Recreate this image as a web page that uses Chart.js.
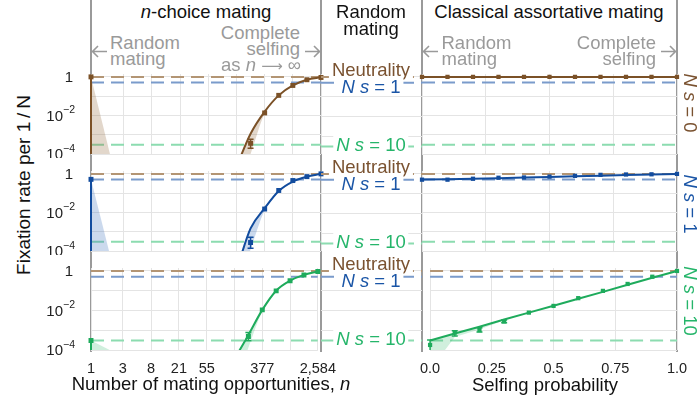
<!DOCTYPE html>
<html>
<head>
<meta charset="utf-8">
<script src="https://cdn.jsdelivr.net/npm/chart.js@4.4.1/dist/chart.umd.min.js"></script>
<style>
  body { margin: 0; background: #fff; }
  #fig { position: relative; width: 699px; height: 404px; overflow: hidden;
         font-family: "Liberation Sans", Arial, sans-serif; }
  #fig canvas { position: absolute; }
  .t { position: absolute; white-space: nowrap; }
  .sep { position: absolute; width: 2px; top: 0; height: 352px; background: #9a9a9a; }
  #arrows { position: absolute; left: 0; top: 0; }
</style>
</head>
<body>
<div id="fig">
  <div class="sep" style="left:90px"></div>
  <div class="sep" style="left:320px"></div>
  <div class="sep" style="left:421px"></div>
  <div class="sep" style="left:676px"></div>
  <svg id="arrows" width="699" height="80" fill="none" stroke="#9a9a9a" stroke-width="1.6">
    <path d="M92 51.5 H107 M98 46 L92.5 51.5 L98 57"/>
    <path d="M305 51.5 H320 M314 46 L319.5 51.5 L314 57"/>
    <path d="M423 51.5 H438 M429 46 L423.5 51.5 L429 57"/>
    <path d="M661 51.5 H676 M670 46 L675.5 51.5 L670 57"/>
  </svg>
</div>
<script>
// axis ticks
const nTicks = [1, 3, 8, 21, 55, 144, 377, 987, 2584];
const nTickLabels = ['1', '3', '8', '21', '55', '', '377', '', '2,584'];
const selfTicks = [0, 0.25, 0.5, 0.75, 1];
const selfTickLabels = ['0.0', '0.25', '0.5', '0.75', '1.0'];
const yGrid = [1e-4, 1e-3, 1e-2, 1e-1, 1];
const yTickVals = [1, 1e-2, 1e-4];
const yTickBase = ['1', '10', '10'];
const yTickExp = ['', '\u22122', '\u22124'];

// reference levels (Neutrality, N s = 1, N s = 10)
const refNeutral = 1;
const refNs1 = 0.51;
const refNs10 = 3.0e-4;

// n-choice mating: simulations
const nSim = [1, 233, 377, 610, 987, 1597, 2584];
const simNs0 = [1, 3.6e-4, 1.35e-2, 0.11, 0.36, 0.71, 0.93];
const simNs1 = [0.52, 2.75e-4, 1.5e-2, 0.138, 0.45, 0.72, 1.0];
const simNs10 = [3.0e-4, 4.8e-4, 1.07e-2, 0.098, 0.32, 0.63, 0.93];
const errLoNs0 = [null, 2.0e-4, null, null, null, null, null];
const errHiNs0 = [null, 5.8e-4, null, null, null, null, null];
const errLoNs1 = [null, 1.4e-4, null, null, null, null, null];
const errHiNs1 = [null, 5.1e-4, null, null, null, null, null];
const errLoNs10 = [null, 2.9e-4, null, null, null, null, null];
const errHiNs10 = [null, 7.6e-4, null, null, null, null, null];

// n-choice mating: theory and its band
const nTheory = [144, 233, 377, 610, 987, 1597, 2584];
const theoryNs0 = [2.2e-5, 1.12e-3, 1.58e-2, 0.11, 0.36, 0.71, 0.95];
const theoryNs1 = [1.0e-5, 1.48e-3, 1.66e-2, 0.13, 0.40, 0.72, 1.0];
const theoryNs10 = [3.5e-5, 5.8e-4, 1.07e-2, 0.10, 0.32, 0.63, 0.93];
const bandNs0 = [1e-6, 1.0e-4, 1.26e-2, 0.105, 0.35, 0.70, 0.94];
const bandNs1 = [1e-6, 1.2e-4, 1.3e-2, 0.115, 0.37, 0.69, 0.98];
const bandNs10 = [1e-6, 1.3e-4, 0.9e-2, 0.095, 0.31, 0.62, 0.93];
// shaded wedge at n = 1 : top value, n where it meets the bottom
const wedgeTop = [1, 0.52, 3.0e-4];
const wedgeEnd = [1.91, 1.85, 1.91];

// classical assortative mating
const selfX = [0, 0.1, 0.2, 0.3, 0.4, 0.5, 0.6, 0.7, 0.8, 0.9, 1.0];
const selfSimNs0 = [1, 1, 1, 1, 1, 1, 1, 1, 1, 1, 1];
const selfTheoryNs0 = [1, 1, 1, 1, 1, 1, 1, 1, 1, 1, 1];
const selfSimNs1 = [0.50, 0.50, 0.56, 0.63, 0.65, 0.72, 0.79, 0.89, 0.93, 0.95, 1.0];
const selfTheoryNs1 = [0.51, 0.53, 0.56, 0.60, 0.65, 0.69, 0.76, 0.81, 0.87, 0.93, 1.0];
const selfSimNs10 = [1.8e-4, 7.6e-4, 1.02e-3, 2.8e-3, 7.8e-3, 1.7e-2, 4.2e-2, 9.8e-2, 0.22, 0.51, 1.0];
const selfTheoryNs10 = [3.0e-4, 6.8e-4, 1.5e-3, 3.5e-3, 7.8e-3, 1.74e-2, 3.9e-2, 8.7e-2, 0.20, 0.45, 1.0];
const selfErrLoNs10 = [1e-5, 5.1e-4, 8.1e-4, 2.4e-3, null, null, null, null, null, null, null];
const selfErrHiNs10 = [3.2e-4, 9.5e-4, 1.35e-3, 3.3e-3, null, null, null, null, null, null, null];
const selfBandX = [0, 0.1, 0.2, 0.3];
const selfBandNs10 = [1e-5, 4.5e-4, 1.1e-3, 3.2e-3];

const FONT = '"Liberation Sans", Arial, sans-serif';
Chart.defaults.font.family = FONT;
Chart.defaults.color = '#222';

const colors = ['#7b5127', '#124c9e', '#1eab5c'];
const bands = ['rgba(150,110,70,0.28)', 'rgba(70,120,190,0.28)', 'rgba(40,180,100,0.22)'];
const dashCol = ['#b39574', '#7a9bcb', '#8cdcb0'];
const GRID = '#e4e4e4';
const rowTop = [74, 171, 268];
const ROW_H = 82;

const pts = (xs, ys) => xs.map((x, i) => ({ x: x, y: ys[i] }));
const fig = document.getElementById('fig');

// y tick labels with superscripts, placed by the y scale
const supTicks = {
  id: 'supTicks',
  afterDraw(chart, args, opts) {
    if (!opts.show) return;
    const ctx = chart.ctx, ys = chart.scales.y;
    const right = chart.chartArea.left - 16;
    ctx.save();
    ctx.fillStyle = '#222';
    ctx.textAlign = 'right';
    ctx.textBaseline = 'middle';
    yTickVals.forEach((v, i) => {
      const py = ys.getPixelForValue(v) + 1;
      let x = right;
      if (yTickExp[i]) {
        ctx.font = '10.5px ' + FONT;
        ctx.fillText(yTickExp[i], x, py - 6);
        x -= ctx.measureText(yTickExp[i]).width;
      } else {
        x -= 2;
      }
      ctx.font = '15px ' + FONT;
      ctx.fillText(yTickBase[i], x, py);
    });
    ctx.restore();
  }
};

// I-shaped error bars for datasets carrying errLo / errHi
const errBars = {
  id: 'errBars',
  afterDatasetsDraw(chart) {
    const ctx = chart.ctx, xs = chart.scales.x, ys = chart.scales.y, a = chart.chartArea;
    chart.data.datasets.forEach(ds => {
      if (!ds.errLo) return;
      ctx.save();
      ctx.beginPath();
      ctx.rect(a.left - 6, a.top - 6, a.width + 12, a.height + 6);
      ctx.clip();
      ctx.strokeStyle = ds.borderColor;
      ctx.lineWidth = 1.5;
      ds.data.forEach((p, i) => {
        if (ds.errLo[i] == null) return;
        const px = xs.getPixelForValue(p.x);
        const y1 = ys.getPixelForValue(ds.errLo[i]);
        const y2 = ys.getPixelForValue(ds.errHi[i]);
        ctx.beginPath();
        ctx.moveTo(px, y1); ctx.lineTo(px, y2);
        ctx.moveTo(px - 3, y1); ctx.lineTo(px + 3, y1);
        ctx.moveTo(px - 3, y2); ctx.lineTo(px + 3, y2);
        ctx.stroke();
      });
      ctx.restore();
    });
  }
};

function yScaleOpts() {
  return {
    type: 'logarithmic', min: 1e-4, max: 1.41,
    afterBuildTicks: s => { s.ticks = yGrid.map(v => ({ value: v })); },
    ticks: { display: false },
    grid: { color: GRID, drawTicks: false },
    border: { display: false }
  };
}

function xScaleOpts(kind, bottom) {
  const o = {
    grid: { color: GRID, drawTicks: false, display: kind !== 'mid' },
    border: { display: false },
    ticks: { display: bottom && kind !== 'mid', autoSkip: false, maxRotation: 0, padding: 10,
             font: { size: 14.5 }, color: '#222' }
  };
  if (kind === 'n') {
    Object.assign(o, { type: 'logarithmic', min: 1, max: 2584 });
    o.afterBuildTicks = s => { s.ticks = nTicks.map(v => ({ value: v })); };
    o.ticks.callback = (v, i) => nTickLabels[i];
  } else {
    Object.assign(o, { type: 'linear', min: 0, max: 1 });
    if (kind === 'self') {
      o.afterBuildTicks = s => { s.ticks = selfTicks.map(v => ({ value: v })); };
      o.ticks.callback = (v, i) => selfTickLabels[i];
    }
  }
  if (bottom && kind !== 'mid') o.afterFit = s => { s.height = 30; };
  return o;
}

function refLines(x0, x1) {
  return [refNeutral, refNs1, refNs10].map((v, k) => ({
    data: [{ x: x0, y: v }, { x: x1, y: v }],
    borderColor: dashCol[k], borderWidth: 2, borderDash: [13, 7],
    pointRadius: 0, order: 3
  }));
}

const CLIP = { left: 8, right: 8, top: 8, bottom: 0 };

function makeChart(area, pads, xOpts, datasets, showY, axisH) {
  const c = document.createElement('canvas');
  c.width = area.w + pads.l + pads.r;
  c.height = area.h + pads.t + pads.b + axisH;
  c.style.left = (area.x - pads.l) + 'px';
  c.style.top = (area.y - pads.t) + 'px';
  fig.appendChild(c);
  return new Chart(c, {
    type: 'line',
    data: { datasets: datasets },
    options: {
      responsive: false, animation: false, devicePixelRatio: 1,
      layout: { padding: { left: pads.l, right: pads.r, top: pads.t, bottom: pads.b } },
      plugins: { legend: { display: false }, tooltip: { enabled: false }, supTicks: { show: showY } },
      scales: { x: xOpts, y: yScaleOpts() }
    },
    plugins: [supTicks, errBars]
  });
}

const leftRows = [
  { sim: simNs0, lo: errLoNs0, hi: errHiNs0, th: theoryNs0, band: bandNs0 },
  { sim: simNs1, lo: errLoNs1, hi: errHiNs1, th: theoryNs1, band: bandNs1 },
  { sim: simNs10, lo: errLoNs10, hi: errHiNs10, th: theoryNs10, band: bandNs10 }
];
const rightRows = [
  { sim: selfSimNs0, th: selfTheoryNs0 },
  { sim: selfSimNs1, th: selfTheoryNs1 },
  { sim: selfSimNs10, th: selfTheoryNs10, lo: selfErrLoNs10, hi: selfErrHiNs10, band: selfBandNs10 }
];

for (let r = 0; r < 3; r++) {
  const bottom = r === 2;
  const axisH = bottom ? 30 : 0;
  const col = colors[r];

  // n-choice mating panel
  const L = leftRows[r];
  makeChart({ x: 91, y: rowTop[r], w: 230, h: ROW_H },
    { l: 51, r: 25, t: 4, b: bottom ? 0 : 2 },
    xScaleOpts('n', bottom),
    [
      { data: pts(nSim, L.sim), showLine: false, pointStyle: 'rect', pointRadius: 3.5,
        pointBackgroundColor: col, pointBorderColor: col, pointBorderWidth: 0,
        borderColor: col, errLo: L.lo, errHi: L.hi, order: 0, clip: CLIP },
      { data: pts(nTheory, L.th), borderColor: col, borderWidth: 2, pointRadius: 0,
        cubicInterpolationMode: 'monotone', order: 1, clip: CLIP },
      { data: pts(nTheory, L.band), borderWidth: 0, pointRadius: 0, fill: '-1',
        backgroundColor: bands[r], cubicInterpolationMode: 'monotone', order: 2, clip: CLIP },
      { data: [{ x: 1, y: L.sim[0] }, { x: 1, y: 1e-6 }], borderColor: col, borderWidth: 2,
        pointRadius: 0, order: 1, clip: CLIP },
      { data: [{ x: 1, y: wedgeTop[r] }, { x: wedgeEnd[r], y: 1e-4 }], borderWidth: 0,
        pointRadius: 0, fill: 'start', backgroundColor: bands[r], order: 2, clip: CLIP }
    ].concat(refLines(1, 2584)),
    true, axisH);

  // random mating column
  makeChart({ x: 321, y: rowTop[r], w: 101, h: ROW_H },
    { l: 0, r: 0, t: 0, b: 0 },
    xScaleOpts('mid', false),
    refLines(0, 1), false, 0);

  // classical assortative mating panel
  const R = rightRows[r];
  const rds = [
    { data: pts(selfX, R.sim), showLine: false, pointStyle: 'rect', pointRadius: 3,
      pointBackgroundColor: col, pointBorderColor: col, pointBorderWidth: 0,
      borderColor: col, errLo: R.lo, errHi: R.hi, order: 0, clip: CLIP },
    { data: pts(selfX, R.th), borderColor: col, borderWidth: 2, pointRadius: 0, order: 1, clip: CLIP }
  ];
  if (R.band) {
    rds.push({ data: pts(selfBandX, R.band), borderWidth: 0, pointRadius: 0, fill: '-1',
      backgroundColor: bands[r], order: 2, clip: CLIP });
  }
  makeChart({ x: 422, y: rowTop[r], w: 255, h: ROW_H },
    { l: 12, r: 22, t: 4, b: bottom ? 0 : 2 },
    xScaleOpts('self', bottom),
    rds.concat(refLines(0, 1)), false, axisH);
}

// ---- text ----
function addText(html, x, base, size, color, align, bg) {
  const d = document.createElement('div');
  d.className = 't';
  d.innerHTML = html;
  d.style.fontSize = size + 'px';
  d.style.lineHeight = size + 'px';
  d.style.top = (base - 0.8465 * size) + 'px';
  d.style.left = x + 'px';
  d.style.color = color;
  const tx = align === 'center' ? '-50%' : align === 'right' ? '-100%' : '0';
  d.style.transform = 'translateX(' + tx + ')';
  if (bg) { d.style.background = '#fff'; d.style.padding = '0 3px'; }
  fig.appendChild(d);
}
function addRot(html, cx, cy, size, color, deg) {
  const d = document.createElement('div');
  d.className = 't';
  d.innerHTML = html;
  d.style.fontSize = size + 'px';
  d.style.lineHeight = size + 'px';
  d.style.left = cx + 'px';
  d.style.top = cy + 'px';
  d.style.color = color;
  d.style.transform = 'translate(-50%,-50%) rotate(' + deg + 'deg)';
  fig.appendChild(d);
}

const BLACK = '#111', GRAY = '#9a9a9a';
addText('<i>n</i>-choice mating', 206, 18.5, 18.5, BLACK, 'center');
addText('Random', 371, 18.5, 18.5, BLACK, 'center');
addText('mating', 371, 35.5, 18.5, BLACK, 'center');
addText('Classical assortative mating', 549, 18.5, 18.5, BLACK, 'center');

addText('Random', 110, 50, 18.5, GRAY, 'left');
addText('mating', 110, 66, 18.5, GRAY, 'left');
addText('Complete', 300, 40, 18.5, GRAY, 'right');
addText('selfing', 300, 56, 18.5, GRAY, 'right');
addText('as <i>n</i> <span style="font-family:\'DejaVu Sans\';font-size:15px">\u27F6</span> \u221E', 301, 72, 18.5, GRAY, 'right');

addText('Random', 441.5, 50, 18.5, GRAY, 'left');
addText('mating', 441.5, 65.5, 18.5, GRAY, 'left');
addText('Complete', 656, 50, 18.5, GRAY, 'right');
addText('selfing', 656, 65.5, 18.5, GRAY, 'right');

const labCol = ['#7a5230', '#1a55a6', '#25b56a'];
const rowOne = [77, 174, 271];
for (let r = 0; r < 3; r++) {
  const y1 = rowOne[r];
  addText('Neutrality', 371, y1, 18.5, labCol[0], 'center', true);
  addText('<i>N</i> <i>s</i> = 1', 371, y1 + 16.3, 18.5, labCol[1], 'center', true);
  addText('<i>N</i> <i>s</i> = 10', 371, y1 + 74.7, 18.5, labCol[2], 'center', true);
}
addRot('<i>N</i> <i>s</i> = 0', 690, 103, 18.5, labCol[0], 90);
addRot('<i>N</i> <i>s</i> = 1', 690, 204, 18.5, labCol[1], 90);
addRot('<i>N</i> <i>s</i> = 10', 690, 301, 18.5, labCol[2], 90);

addRot('Fixation rate per 1\u2009/\u2009N', 23, 185, 19, BLACK, -90);
addText('Number of mating opportunities, <i>n</i>', 211, 391, 18.5, BLACK, 'center');
addText('Selfing probability', 545, 392, 18.5, BLACK, 'center');
</script>
</body>
</html>
